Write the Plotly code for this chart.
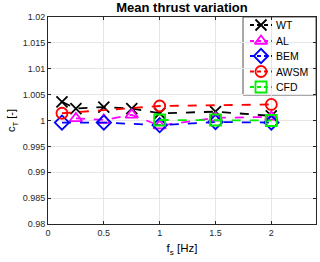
import plotly.graph_objects as go

wt_x = [0.125, 0.25, 0.5, 0.75, 1.0, 1.5, 2.0]
wt_y = [1.0036, 1.0023, 1.0026, 1.0023, 1.0014, 1.0017, 1.0009]
al_x = [0.25, 0.5, 0.75, 1.0, 1.5, 2.0]
al_y = [1.0004, 1.0001, 1.0011, 0.9990, 1.0005, 1.0007]
bem_x = [0.125, 0.5, 1.0, 1.5, 2.0]
bem_y = [0.9996, 0.9996, 0.9991, 0.9997, 0.9996]
awsm_x = [0.125, 1.0, 2.0]
awsm_y = [1.0014, 1.0028, 1.0031]
cfd_x = [1.0, 1.5, 2.0]
cfd_y = [1.0001, 1.0001, 1.0000]

ytick_vals = [0.98, 0.985, 0.99, 0.995, 1.0, 1.005, 1.01, 1.015, 1.02]
ytick_text = ["0.98", "0.985", "0.99", "0.995", "1", "1.005", "1.01", "1.015", "1.02"]
xtick_vals = [0, 0.5, 1, 1.5, 2]
xtick_text = ["0", "0.5", "1", "1.5", "2"]

series = [
    ("WT", wt_x, wt_y, "black", "x-thin-open"),
    ("AL", al_x, al_y, "#ff00ff", "triangle-up-open"),
    ("BEM", bem_x, bem_y, "#0000ff", "diamond-open"),
    ("AWSM", awsm_x, awsm_y, "#ff0000", "circle-open"),
    ("CFD", cfd_x, cfd_y, "#00ee00", "square-open"),
]

# plot area in pixels
L, R, T, B = 48, 4, 17, 38
W, H = 320, 262
PW, PH = W - L - R, H - T - B

fig = go.Figure()
for name, xs, ys, col, sym in series:
    fig.add_trace(go.Scatter(
        x=xs, y=ys, name=name, mode="lines+markers", showlegend=False,
        line=dict(color=col, width=1.8, dash="dash"),
        marker=dict(symbol=sym, size=11, color=col, line=dict(color=col, width=1.8)),
    ))

# custom legend (pixel offsets inside the plot area, y measured from top)
leg_left, leg_right, leg_top, leg_bottom = 243 - L, PW, 0, 95 - T
fig.add_shape(type="rect", xref="paper", yref="paper", layer="between",
              x0=leg_left / PW, x1=leg_right / PW,
              y0=1 - leg_bottom / PH, y1=1 - leg_top / PH,
              fillcolor="white", line=dict(color="#262626", width=0.8))
row_y = [25, 41, 56, 71.5, 87]
for (name, xs, ys, col, sym), ry in zip(series, row_y):
    yy = ry - T
    fig.add_trace(go.Scatter(
        x=[250 - L, 272 - L], y=[yy, yy], xaxis="x2", yaxis="y2",
        mode="lines", showlegend=False, hoverinfo="skip",
        line=dict(color=col, width=1.8, dash="4px,3px"),
    ))
    fig.add_trace(go.Scatter(
        x=[261 - L], y=[yy], xaxis="x2", yaxis="y2",
        mode="markers", showlegend=False, hoverinfo="skip",
        marker=dict(symbol=sym, size=11, color=col, line=dict(color=col, width=1.8)),
    ))
    fig.add_annotation(text=name, xref="paper", yref="paper",
                       x=(274 - L) / PW, y=1 - yy / PH, xanchor="left", yanchor="middle",
                       showarrow=False, font=dict(size=10.5, color="black"))

fig.update_layout(
    width=W, height=H,
    margin=dict(l=L, r=R, t=T, b=B, autoexpand=False),
    paper_bgcolor="white", plot_bgcolor="white",
    font=dict(family="Liberation Sans, Arial, sans-serif", size=9, color="#262626"),
    title=dict(text="<b>Mean thrust variation</b>", xref="paper", x=0.5, xanchor="center",
               y=0.99, yanchor="top", font=dict(size=13, color="black")),
    showlegend=False,
    xaxis=dict(range=[0, 2.4], tickvals=xtick_vals, ticktext=xtick_text, automargin=False,
               showgrid=True, gridcolor="#e6e6e6", zeroline=False,
               showline=True, linecolor="#262626", linewidth=0.8, mirror="ticks",
               ticks="inside", ticklen=3, tickcolor="#262626",
               title=dict(text="f<sub>s</sub> [Hz]", font=dict(size=11.5, color="black"), standoff=7)),
    yaxis=dict(range=[0.98, 1.02], tickvals=ytick_vals, ticktext=ytick_text, automargin=False,
               showgrid=True, gridcolor="#e6e6e6", zeroline=False,
               showline=True, linecolor="#262626", linewidth=0.8, mirror="ticks",
               ticks="inside", ticklen=3, tickcolor="#262626",
               title=dict(text="c<sub>T</sub> [-]", font=dict(size=11, color="black"), standoff=4)),
    xaxis2=dict(overlaying="x", range=[0, PW], visible=False, fixedrange=True, automargin=False),
    yaxis2=dict(overlaying="y", range=[PH, 0], visible=False, fixedrange=True, automargin=False),
)

fig.write_html("out.html", config={"displayModeBar": False},
               post_script="document.body.style.margin='0';document.body.style.padding='0';")
